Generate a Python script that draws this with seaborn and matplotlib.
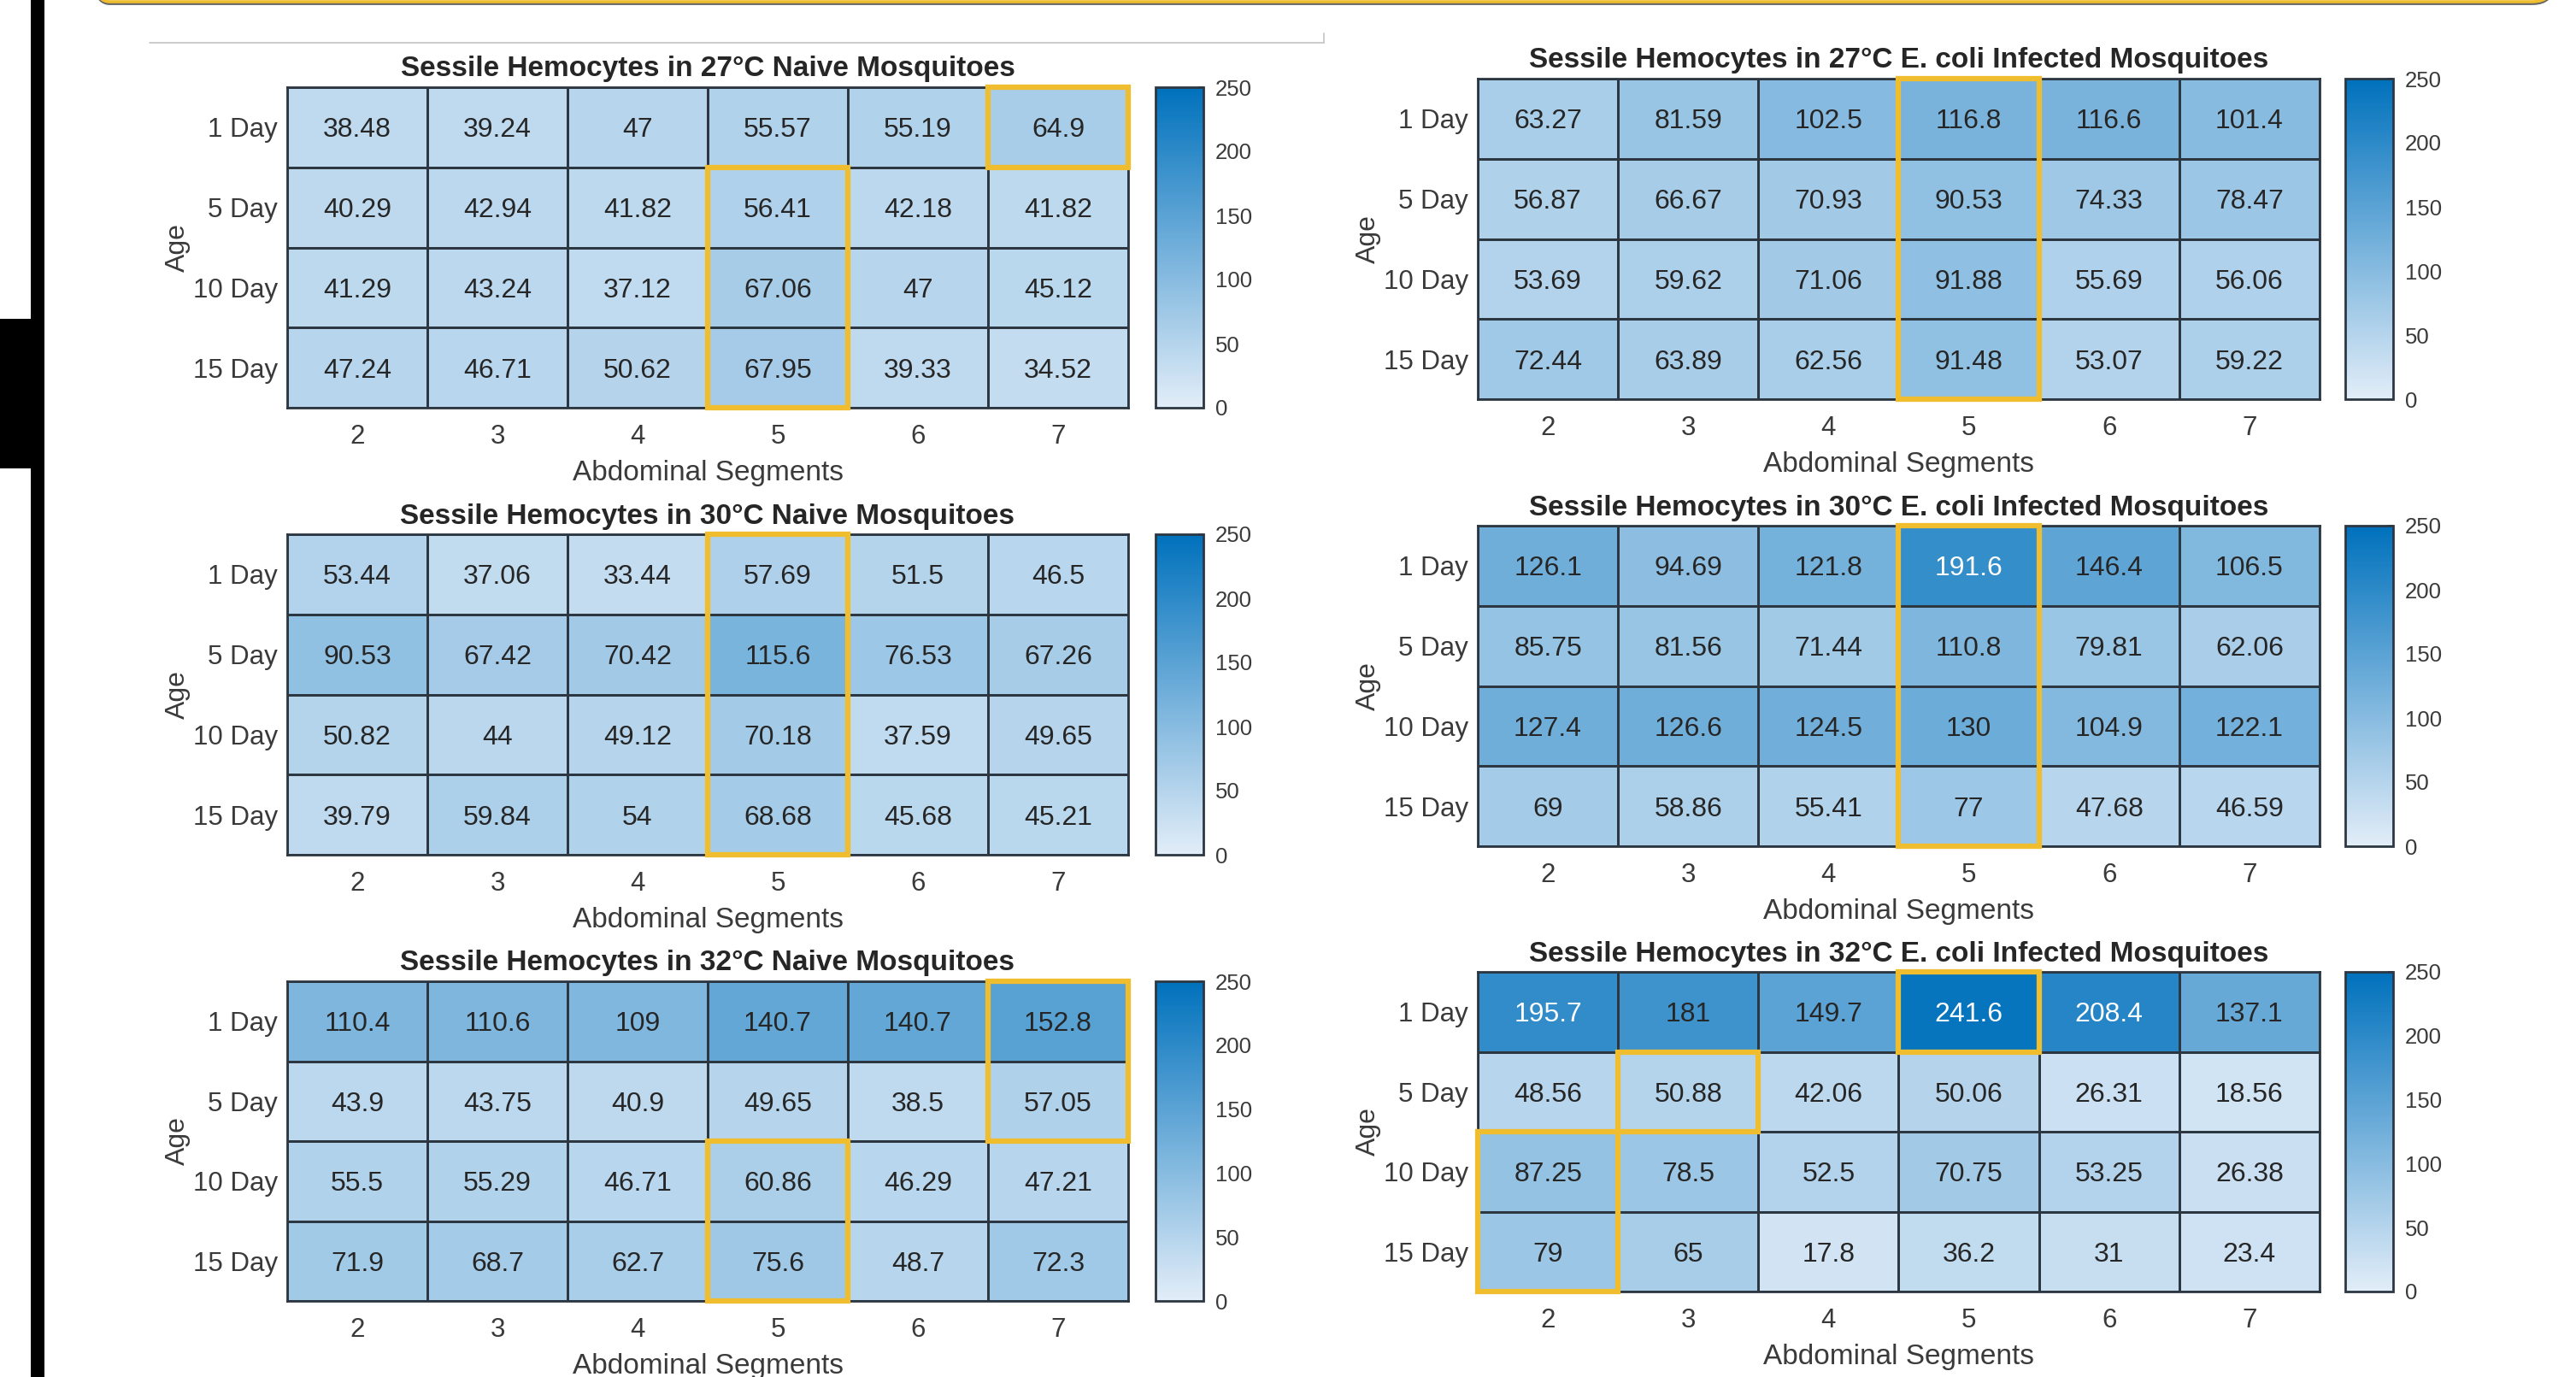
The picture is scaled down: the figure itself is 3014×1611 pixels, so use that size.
import numpy as np
import pandas as pd
import matplotlib
matplotlib.use("Agg")
import matplotlib.pyplot as plt
import seaborn as sns
from matplotlib.colors import LinearSegmentedColormap
from matplotlib.patches import Rectangle, FancyBboxPatch
from matplotlib.lines import Line2D

# ---- data -----------------------------------------------------------------
ages = ["1 Day", "5 Day", "10 Day", "15 Day"]
segments = [2, 3, 4, 5, 6, 7]

naive_27 = [
    [38.48, 39.24, 47, 55.57, 55.19, 64.9],
    [40.29, 42.94, 41.82, 56.41, 42.18, 41.82],
    [41.29, 43.24, 37.12, 67.06, 47, 45.12],
    [47.24, 46.71, 50.62, 67.95, 39.33, 34.52],
]
naive_30 = [
    [53.44, 37.06, 33.44, 57.69, 51.5, 46.5],
    [90.53, 67.42, 70.42, 115.6, 76.53, 67.26],
    [50.82, 44, 49.12, 70.18, 37.59, 49.65],
    [39.79, 59.84, 54, 68.68, 45.68, 45.21],
]
naive_32 = [
    [110.4, 110.6, 109, 140.7, 140.7, 152.8],
    [43.9, 43.75, 40.9, 49.65, 38.5, 57.05],
    [55.5, 55.29, 46.71, 60.86, 46.29, 47.21],
    [71.9, 68.7, 62.7, 75.6, 48.7, 72.3],
]
ecoli_27 = [
    [63.27, 81.59, 102.5, 116.8, 116.6, 101.4],
    [56.87, 66.67, 70.93, 90.53, 74.33, 78.47],
    [53.69, 59.62, 71.06, 91.88, 55.69, 56.06],
    [72.44, 63.89, 62.56, 91.48, 53.07, 59.22],
]
ecoli_30 = [
    [126.1, 94.69, 121.8, 191.6, 146.4, 106.5],
    [85.75, 81.56, 71.44, 110.8, 79.81, 62.06],
    [127.4, 126.6, 124.5, 130, 104.9, 122.1],
    [69, 58.86, 55.41, 77, 47.68, 46.59],
]
ecoli_32 = [
    [195.7, 181, 149.7, 241.6, 208.4, 137.1],
    [48.56, 50.88, 42.06, 50.06, 26.31, 18.56],
    [87.25, 78.5, 52.5, 70.75, 53.25, 26.38],
    [79, 65, 17.8, 36.2, 31, 23.4],
]

titles = [
    "Sessile Hemocytes in 27°C Naive Mosquitoes",
    "Sessile Hemocytes in 30°C Naive Mosquitoes",
    "Sessile Hemocytes in 32°C Naive Mosquitoes",
    "Sessile Hemocytes in 27°C E. coli Infected Mosquitoes",
    "Sessile Hemocytes in 30°C E. coli Infected Mosquitoes",
    "Sessile Hemocytes in 32°C E. coli Infected Mosquitoes",
]

# highlighted blocks: (first row, first column, n rows, n columns)
highlights = [
    [(0, 5, 1, 1), (1, 3, 3, 1)],
    [(0, 3, 4, 1)],
    [(0, 5, 2, 1), (2, 3, 2, 1)],
    [(0, 3, 4, 1)],
    [(0, 3, 4, 1)],
    [(0, 3, 1, 1), (1, 1, 1, 1), (2, 0, 2, 1)],
]

panels = [naive_27, naive_30, naive_32, ecoli_27, ecoli_30, ecoli_32]

# ---- style ----------------------------------------------------------------
sns.set_theme(style="white")
plt.rcParams["font.family"] = ["Liberation Sans", "DejaVu Sans"]

W, H = 3014, 1611
fig = plt.figure(figsize=(W / 100, H / 100), dpi=100)

cmap = LinearSegmentedColormap.from_list("matlab_blues", ["#E2EDF8", "#0071BC"])
edge = "#2c3742"
yellow = "#F0BD2E"
txt_dark = "#262626"
tick_col = "#3a3a3a"


def frac_rect(x0, y0, x1, y1):
    """pixel box (top-left origin) -> figure fraction [l, b, w, h]"""
    return [x0 / W, 1 - y1 / H, (x1 - x0) / W, (y1 - y0) / H]


# pixel geometry of heatmaps and colorbars
left_cols = (336, 1320, 1352, 1408)
right_cols = (1729, 2714, 2744, 2800)
left_rows = [(102, 477), (625, 1000), (1148, 1522)]
right_rows = [(92, 467), (615, 990), (1137, 1511)]

geoms = [(left_cols, r) for r in left_rows] + [(right_cols, r) for r in right_rows]

for idx, (values, title, boxes, (cols, rows)) in enumerate(
        zip(panels, titles, highlights, geoms)):
    hx0, hx1, cx0, cx1 = cols
    y0, y1 = rows
    ax = fig.add_axes(frac_rect(hx0, y0, hx1, y1))
    cax = fig.add_axes(frac_rect(cx0, y0, cx1, y1))

    df = pd.DataFrame(values, index=ages, columns=segments)
    sns.heatmap(df, ax=ax, cbar_ax=cax, cmap=cmap, vmin=0, vmax=250,
                annot=True, fmt=".4g", linewidths=2.0, linecolor=edge,
                annot_kws=dict(size=23, color=txt_dark))

    # white labels on the darkest cells
    for t, v in zip(ax.texts, df.values.flat):
        t.set_color("white" if v > 185 else txt_dark)
        t.set_verticalalignment("center_baseline")

    for s in ax.spines.values():
        s.set_visible(True)
        s.set_color(edge)
        s.set_linewidth(2.0)

    ax.set_title(title, fontsize=24, fontweight="bold", color=txt_dark, pad=9)
    ax.set_xlabel("Abdominal Segments", fontsize=24, color=tick_col, labelpad=8)
    ax.set_ylabel("Age", fontsize=23, color=tick_col, labelpad=2)
    ax.tick_params(axis="both", length=0, labelsize=22.5, colors=tick_col)
    ax.tick_params(axis="x", pad=14)
    ax.tick_params(axis="y", pad=8)
    ax.set_yticklabels(ages, rotation=0, va="center_baseline")
    ax.set_xticklabels([str(s) for s in segments], rotation=0)

    for r0, c0, nr, nc in boxes:
        ax.add_patch(Rectangle((c0, r0), nc, nr, fill=False, edgecolor=yellow,
                               linewidth=4.5, clip_on=False, zorder=5))

    cbar = ax.collections[0].colorbar
    cbar.set_ticks([0, 50, 100, 150, 200, 250])
    cbar.ax.tick_params(direction="in", length=4, width=1.2, color=edge,
                        labelsize=18.5, labelcolor=tick_col, pad=10)
    cbar.outline.set_edgecolor(edge)
    cbar.outline.set_linewidth(2.0)

# ---- page furniture around the figure -----------------------------------
# black strip on the left edge
fig.patches.append(Rectangle((36 / W, 0), 16 / W, 1, transform=fig.transFigure,
                             facecolor="black", edgecolor="none", zorder=10))
fig.patches.append(Rectangle((0, 1 - 548 / H), 52 / W, 175 / H,
                             transform=fig.transFigure, facecolor="black",
                             edgecolor="none", zorder=10))

# rounded frame edge at the top (shadow + yellow)
inch = fig.dpi_scale_trans
fig.patches.append(FancyBboxPatch((1.03, 16.11 - 0.045), 28.85, 1.0,
                                  boxstyle="round,pad=0,rounding_size=0.25",
                                  transform=inch, facecolor="none",
                                  edgecolor="#666666", linewidth=2.0, zorder=9))
fig.patches.append(FancyBboxPatch((1.03, 16.11 - 0.02), 28.85, 1.0,
                                  boxstyle="round,pad=0,rounding_size=0.25",
                                  transform=inch, facecolor="none",
                                  edgecolor=yellow, linewidth=2.6, zorder=10))

# thin grey rule above the first panel
fig.add_artist(Line2D([175 / W, 1549 / W], [1 - 50 / H, 1 - 50 / H],
                      transform=fig.transFigure, color="#c4c4c4", linewidth=1.2))
fig.add_artist(Line2D([1549 / W, 1549 / W], [1 - 50 / H, 1 - 39 / H],
                      transform=fig.transFigure, color="#c4c4c4", linewidth=1.2))

fig.savefig("out.png", dpi=100, facecolor="white")
